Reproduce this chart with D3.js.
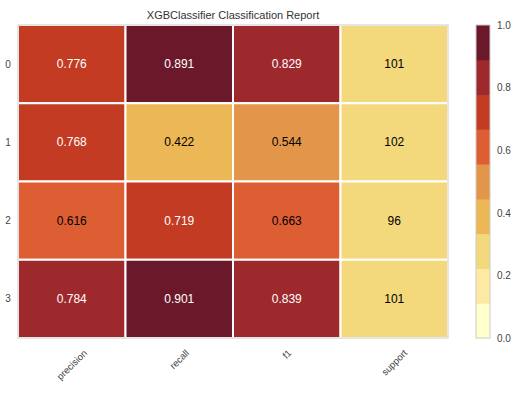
<!DOCTYPE html>
<html>
<head>
<meta charset="utf-8">
<script src="https://cdn.jsdelivr.net/npm/d3@7"></script>
<style>
  body { margin: 0; background: #fff; }
  svg { font-family: "Liberation Sans", Arial, sans-serif; }
</style>
</head>
<body>
<div id="chart"></div>
<script>
const classes = ["0", "1", "2", "3"];
const metrics = ["precision", "recall", "f1", "support"];
const precision = [0.776, 0.768, 0.616, 0.784];
const recall = [0.891, 0.422, 0.719, 0.901];
const f1 = [0.829, 0.544, 0.663, 0.839];
const support = [101, 102, 96, 101];
const colorTicks = [0.0, 0.2, 0.4, 0.6, 0.8, 1.0];
const bandColors = ["#ffffcc", "#fde9a1", "#f3d97c", "#ecb755", "#e3964a",
                    "#dd5e33", "#c23b22", "#9e292c", "#6b192a"];

const width = 529, height = 393;
const margin = { top: 25, right: 81, bottom: 55, left: 18 };
const innerW = width - margin.left - margin.right;
const innerH = height - margin.top - margin.bottom;

const totalSupport = d3.sum(support);
const cells = [];
classes.forEach((c, i) => {
  const vals = [precision[i], recall[i], f1[i], support[i]];
  metrics.forEach((m, j) => {
    cells.push({
      cls: c, metric: m, value: vals[j],
      level: m === "support" ? vals[j] / totalSupport : vals[j],
      label: m === "support" ? String(vals[j]) : vals[j].toFixed(3)
    });
  });
});

const svg = d3.select("#chart").append("svg")
  .attr("width", width)
  .attr("height", height);

const x = d3.scaleBand().domain(metrics).range([margin.left, margin.left + innerW]);
const y = d3.scaleBand().domain(classes).range([margin.top, margin.top + innerH]);

const color = d3.scaleQuantize().domain([0, 1]).range(bandColors);

// title
svg.append("text")
  .attr("x", margin.left + innerW / 2)
  .attr("y", 19)
  .attr("text-anchor", "middle")
  .attr("font-size", "11px")
  .attr("fill", "#333")
  .text("XGBClassifier Classification Report");

// cells
svg.append("g").selectAll("rect")
  .data(cells)
  .join("rect")
  .attr("x", d => x(d.metric))
  .attr("y", d => y(d.cls))
  .attr("width", x.bandwidth())
  .attr("height", y.bandwidth())
  .attr("fill", d => color(d.level))
  .attr("stroke", "#fff")
  .attr("stroke-width", 2);

svg.append("g").selectAll("text")
  .data(cells)
  .join("text")
  .attr("x", d => x(d.metric) + x.bandwidth() / 2)
  .attr("y", d => y(d.cls) + y.bandwidth() / 2)
  .attr("text-anchor", "middle")
  .attr("dominant-baseline", "central")
  .attr("font-size", "12px")
  .attr("fill", d => d.level > 0.7 ? "#fff" : "#000")
  .text(d => d.label);

// frame
svg.append("rect")
  .attr("x", margin.left)
  .attr("y", margin.top)
  .attr("width", innerW)
  .attr("height", innerH)
  .attr("fill", "none")
  .attr("stroke", "#cccccc")
  .attr("stroke-width", 1);

// row labels
svg.append("g").selectAll("text")
  .data(classes)
  .join("text")
  .attr("x", 8)
  .attr("y", d => y(d) + y.bandwidth() / 2)
  .attr("text-anchor", "middle")
  .attr("dominant-baseline", "central")
  .attr("font-size", "10px")
  .attr("fill", "#444")
  .text(d => d);

// column labels, rotated 45 deg, box top aligned under the plot
const colLabels = svg.append("g").selectAll("text")
  .data(metrics)
  .join("text")
  .attr("text-anchor", "middle")
  .attr("dominant-baseline", "central")
  .attr("font-size", "9.5px")
  .attr("fill", "#444")
  .text(d => d);

colLabels.attr("transform", function (d) {
  const len = this.getComputedTextLength();
  const half = (len + 9) * Math.SQRT1_2 / 2;
  return `translate(${x(d) + x.bandwidth() / 2},${margin.top + innerH + 10 + half}) rotate(-45)`;
});

// colorbar
const cbX = 476, cbW = 14;
const cy = d3.scaleLinear().domain([0, 1]).range([margin.top + innerH, margin.top]);

svg.append("g").selectAll("rect")
  .data(bandColors)
  .join("rect")
  .attr("x", cbX)
  .attr("y", (d, i) => cy((i + 1) / bandColors.length))
  .attr("width", cbW)
  .attr("height", (d, i) => cy(i / bandColors.length) - cy((i + 1) / bandColors.length) + 0.5)
  .attr("fill", d => d);

svg.append("rect")
  .attr("x", cbX)
  .attr("y", margin.top)
  .attr("width", cbW)
  .attr("height", innerH)
  .attr("fill", "none")
  .attr("stroke", "#cccccc");

svg.append("g")
  .attr("transform", `translate(${cbX + cbW},0)`)
  .call(d3.axisRight(cy).tickValues(colorTicks).tickFormat(d3.format(".1f")).tickSize(0).tickPadding(7))
  .call(g => g.select(".domain").remove())
  .call(g => g.selectAll("text")
    .attr("font-size", "10px")
    .attr("font-family", "Liberation Sans, Arial, sans-serif")
    .attr("fill", "#444"));
</script>
</body>
</html>
